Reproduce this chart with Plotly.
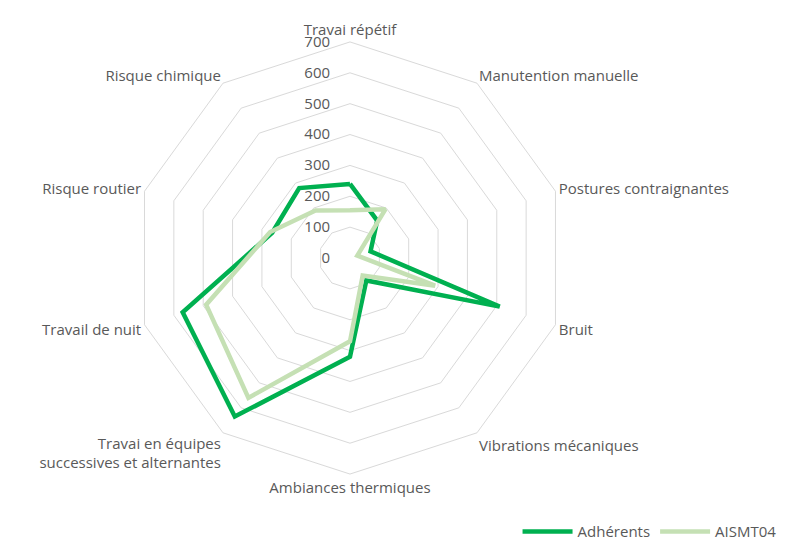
import plotly.graph_objects as go

categories = [
    "Travai répétif",
    "Manutention manuelle",
    "Postures contraignantes",
    "Bruit",
    "Vibrations mécaniques",
    "Ambiances thermiques",
    "Travai en équipes<br>successives et alternantes",
    "Travail de nuit",
    "Risque routier",
    "Risque chimique",
]
adherents = [240, 150, 70, 510, 90, 320, 635, 570, 265, 280]
aismt04 = [155, 195, 25, 290, 70, 270, 560, 490, 272, 190]

radial_ticks = [0, 100, 200, 300, 400, 500, 600, 700]

DARK = "#00B050"
LIGHT = "#C5E0B4"
GRID = "#D9D9D9"
TEXT = "#595959"

fig = go.Figure()
# close the polygon by repeating the first point
fig.add_trace(go.Scatterpolar(
    r=adherents + adherents[:1],
    theta=categories + categories[:1],
    mode="lines",
    name="Adhérents",
    line=dict(color=DARK, width=4.5),
))
fig.add_trace(go.Scatterpolar(
    r=aismt04 + aismt04[:1],
    theta=categories + categories[:1],
    mode="lines",
    name="AISMT04",
    line=dict(color=LIGHT, width=4.5),
))

# invisible padding after each number so they sit left of the axis like Excel
pad = '<span style="color:rgba(255,255,255,0)">00</span>'
tick_text = [f"{v}{pad}" for v in radial_ticks]

fig.update_layout(
    width=790,
    height=543,
    margin=dict(l=0, r=0, t=0, b=0),
    paper_bgcolor="white",
    plot_bgcolor="white",
    font=dict(family="Open Sans", size=15, color=TEXT),
    polar=dict(
        domain=dict(x=[0.1594, 0.7064], y=[0.1416, 0.9376]),
        bgcolor="white",
        gridshape="linear",
        radialaxis=dict(
            range=[0, 700],
            tickvals=radial_ticks,
            ticktext=tick_text,
            angle=90,
            tickangle=90,
            side="counterclockwise",
            showline=False,
            ticks="",
            showgrid=True,
            gridcolor=GRID,
            gridwidth=1,
            tickfont=dict(size=15, color=TEXT),
        ),
        angularaxis=dict(
            direction="clockwise",
            rotation=90,
            showgrid=False,
            showline=True,
            linecolor=GRID,
            linewidth=1,
            ticks="",
            tickfont=dict(size=15, color=TEXT),
        ),
    ),
    legend=dict(
        orientation="h",
        x=0.645,
        y=0.005,
        xanchor="left",
        yanchor="bottom",
        font=dict(size=15, color=TEXT),
        itemwidth=50,
    ),
)

fig.write_html("out.html")
